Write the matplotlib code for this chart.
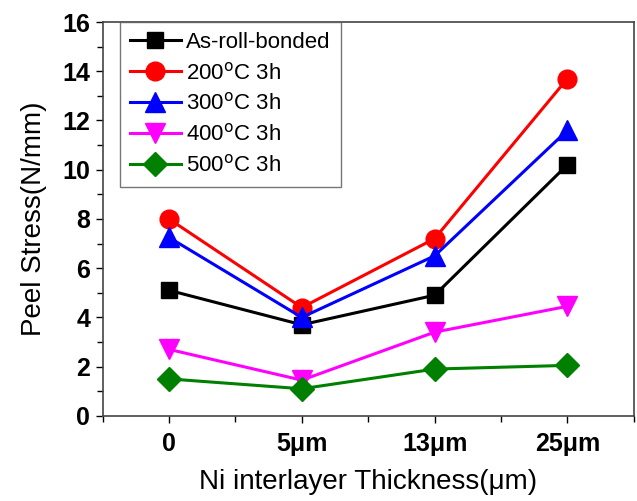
import matplotlib
matplotlib.use('Agg')
import matplotlib.pyplot as plt
import matplotlib.ticker as ticker

plt.rcParams['font.family'] = ['Liberation Sans', 'DejaVu Sans']

thickness = ['0', '5μm', '13μm', '25μm']
as_roll = [5.1, 3.7, 4.9, 10.2]
t200 = [8.0, 4.4, 7.2, 13.7]
t300 = [7.25, 4.0, 6.5, 11.6]
t400 = [2.7, 1.45, 3.4, 4.45]
t500 = [1.5, 1.1, 1.9, 2.05]

series = [
    ('As-roll-bonded', as_roll, 'black', 's', 12),
    ('200$^{\\rm o}$C 3h', t200, 'red', 'o', 13.5),
    ('300$^{\\rm o}$C 3h', t300, 'blue', '^', 15),
    ('400$^{\\rm o}$C 3h', t400, 'magenta', 'v', 15),
    ('500$^{\\rm o}$C 3h', t500, 'green', 'D', 12),
]

fig = plt.figure(figsize=(6.37, 5.01), dpi=100)
ax = fig.add_axes([0.161, 0.170, 0.834, 0.786])

x = list(range(len(thickness)))
for label, vals, col, mk, ms in series:
    ax.plot(x, vals, color=col, marker=mk, markersize=ms, linewidth=2.2, label=label)

ax.set_xlim(-0.5, 3.5)
ax.set_ylim(0, 16)
ax.set_xticks(x)
ax.set_xticklabels(thickness, fontsize=18, fontweight='bold')
ax.xaxis.set_minor_locator(ticker.MultipleLocator(0.5))
ax.yaxis.set_major_locator(ticker.MultipleLocator(2))
ax.yaxis.set_minor_locator(ticker.MultipleLocator(1))
for lab in ax.get_yticklabels():
    lab.set_fontsize(18)
    lab.set_fontweight('bold')
ax.tick_params(which='both', direction='out', top=False, right=False)
ax.tick_params(which='major', length=5, width=1, pad=4)
ax.tick_params(axis='x', which='major', pad=7)
ax.tick_params(which='minor', length=4, width=1)

ax.set_xlabel('Ni interlayer Thickness(μm)', fontsize=20, labelpad=9)
ax.set_ylabel('Peel Stress(N/mm)', fontsize=20, labelpad=11)

leg = ax.legend(loc='upper left', bbox_to_anchor=(0.032, 1.0), borderaxespad=0,
                fontsize=16, frameon=True, fancybox=False, edgecolor='#555555',
                handlelength=2.3, labelspacing=0.4, borderpad=0.45, handletextpad=0.25)
leg.get_frame().set_linewidth(1)

for sp in ax.spines.values():
    sp.set_color('#444444')
    sp.set_linewidth(1.2)

fig.savefig('out.png', dpi=100)
